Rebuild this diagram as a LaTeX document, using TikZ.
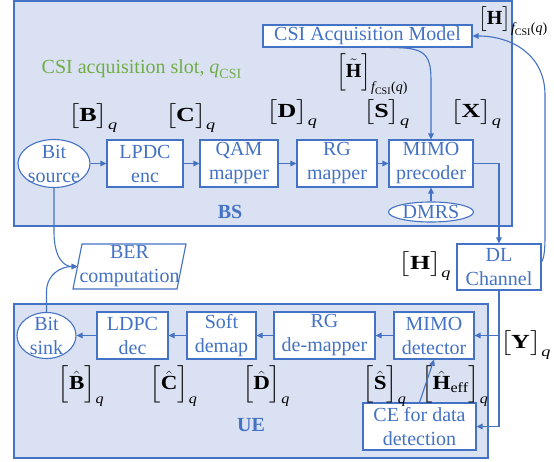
\documentclass[tikz,border=0pt]{standalone}
\usepackage{amsmath}
\usepackage{fontspec}
\setmainfont{Liberation Serif}
\usetikzlibrary{shapes.geometric,arrows.meta,calc}
\definecolor{mblue}{HTML}{4472C4}
\definecolor{regfill}{HTML}{DAE1F2}
\definecolor{mgreen}{HTML}{70AD47}
% plain q-labels: stretched horizontally as in the reference
\newcommand{\lblq}[1]{\scalebox{1.3}[1]{$\bigl[#1\bigr]_{\text{\itshape q}}$}}
% hat labels
\newcommand{\lblh}[1]{\scalebox{1.15}[1]{$\Bigl[#1\Bigr]_{\text{\itshape q}}$}}
\newcommand{\vb}[1]{\text{\bfseries #1}}
\newcommand{\fcsi}{\text{\itshape f}_{\text{CSI}}\text{(}\text{\itshape q}\text{)}}
\begin{document}
\begin{tikzpicture}[x=1pt,y=-1pt,
  font=\fontsize{20}{24}\selectfont,
  >={Triangle[length=6pt,width=5.5pt]},
  region/.style={draw=mblue,fill=regfill,line width=1.4pt},
  box/.style={draw=mblue,fill=white,line width=1.1pt,text=mblue,align=center,inner sep=0pt,minimum height=47pt},
  ell/.style={ellipse,draw=mblue,fill=white,line width=1.1pt,inner sep=0pt},
  txt/.style={text=mblue,align=center,inner sep=0pt},
  mlab/.style={inner sep=0pt,text=black},
  conn/.style={draw=mblue,line width=1.1pt,->},
  title/.style={text=mblue,font=\fontsize{20}{24}\selectfont\bfseries,inner sep=0pt}]
\path[use as bounding box] (0,0) rectangle (554,462);
\draw[region] (14,1) rectangle (512,226);
\draw[region] (14,304) rectangle (488,458);

% BS side
\node[box,minimum width=209pt,minimum height=22pt] (csi) at (367.5,36) {CSI Acquisition Model};
\node[ell,minimum width=72pt,minimum height=48pt] (src) at (54,163.5) {};
\node[txt] (srct) at (src) {Bit\\source};
\node[box,minimum width=76pt] (lpdc) at (145,163.5) {LPDC\\enc};
\node[box,minimum width=78pt] (qam) at (239,163.5) {QAM\\mapper};
\node[box,minimum width=80pt] (rgm) at (337,163.5) {RG\\mapper};
\node[box,minimum width=84pt] (prec) at (431,163.5) {MIMO\\precoder};
\node[ell,minimum width=85pt,minimum height=20pt] (dmrs) at (431,212) {};
\node[txt] (dmrst) at (dmrs) {DMRS};
\node[title] (bs) at (230,212) {BS};
\node[text=mgreen,anchor=base west,inner sep=0pt] (slot) at (41.5,74) {CSI acquisition slot, $\text{\itshape q}_{\text{CSI}}$};

% labels BS
\node[mlab] (lB) at (93,118) {\lblq{\vb{B}}};
\node[mlab] (lC) at (190.5,118) {\lblq{\vb{C}}};
\node[mlab] (lD) at (292,114) {\lblq{\vb{D}}};
\node[mlab] (lS) at (386.5,114) {\lblq{\vb{S}}};
\node[mlab] (lX) at (476,114) {\lblq{\vb{X}}};
\node[mlab] (lHt) at (372,74) {$\Bigl[\tilde{\vb{H}}\Bigr]_{\fcsi}$};
\node[mlab] (lHtop) at (513,21) {$\bigl[\vb{H}\bigr]_{\fcsi}$};

% channel and BER
\node[box,minimum width=84pt,minimum height=46pt] (dl) at (499,267) {DL\\Channel};
\node[mlab] (lHq) at (425,266) {\lblq{\vb{H}}};
\draw[draw=mblue,fill=white,line width=1.1pt] (73,289) -- (82,244) -- (186,244) -- (177,289) -- cycle;
\node[txt] (ber) at (129.5,266.5) {BER\\computation};
\coordinate (berin) at (77.5,266.5);

% UE side
\node[ell,minimum width=59pt,minimum height=46pt] (sink) at (46.5,335.5) {};
\node[txt] (sinkt) at (sink) {Bit\\sink};
\node[box,minimum width=71pt] (ldpc) at (132.5,335.5) {LDPC\\dec};
\node[box,minimum width=69pt] (soft) at (221.5,335.5) {Soft\\demap};
\node[box,minimum width=101pt] (rgd) at (324.5,335.5) {RG\\de-mapper};
\node[box,minimum width=80pt] (det) at (434,335.5) {MIMO\\detector};
\node[box,minimum width=113pt] (ce) at (419.5,426.5) {CE for data\\detection};
\node[title] (ue) at (251,425) {UE};
\node[mlab] (lY) at (525.5,345) {\lblq{\vb{Y}}};

\node[mlab] (lBh) at (81,386) {\lblh{\hat{\vb{B}}}};
\node[mlab] (lCh) at (173.5,386) {\lblh{\hat{\vb{C}}}};
\node[mlab] (lDh) at (266,386) {\lblh{\hat{\vb{D}}}};
\node[mlab] (lSh) at (384.5,386) {\lblh{\hat{\vb{S}}}};
\node[mlab] (lHe) at (455,386) {\lblh{\hat{\vb{H}}_{\text{eff}}}};

% connectors
\draw[conn] (src.east) -- (lpdc.west);
\draw[conn] (lpdc.east) -- (qam.west);
\draw[conn] (qam.east) -- (rgm.west);
\draw[conn] (rgm.east) -- (prec.west);
\draw[conn] (prec.east) -| (dl.north);
\draw[conn] (dmrs.north) -- (prec.south);
\draw[conn] ($(csi.south west)!0.61!(csi.south east)$) .. controls +(32,0) and +(0,-28) .. (431,80) -- (prec.north);
\draw[conn] ($(dl.east)+(0,-5)$) .. controls +(4,-6) and +(0,20) .. (545,220) -- (545,95) .. controls (545,55) and (512,36) .. (csi.east);
\draw[conn] (dl.south) |- (det.east);
\draw[conn] (dl.south) |- (ce.east);
\draw[conn] (det.west) -- (rgd.east);
\draw[conn] (rgd.west) -- (soft.east);
\draw[conn] (soft.west) -- (ldpc.east);
\draw[conn] (ldpc.west) -- (sink.east);
\draw[conn] (ce.north) -- (det.south);
\draw[conn] (src.south) -- ++(0,44) .. controls +(0,25) and +(-14,0) .. (berin);
\draw[conn] (sink.north) -- ++(0,-20) .. controls +(0,-18) and +(-16,0) .. (berin);
\end{tikzpicture}
\end{document}
